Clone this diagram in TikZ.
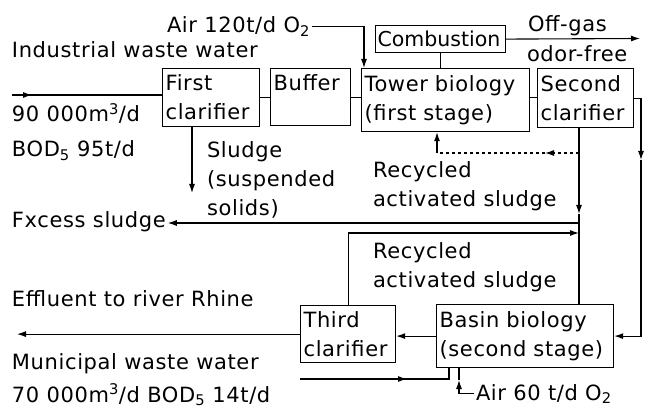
\documentclass[tikz,border=0pt]{standalone}
\usepackage{fontspec}
\setmainfont{DejaVu Sans}[LetterSpace=3.0]
\usepackage{tikz}
\usetikzlibrary{arrows.meta}

\tikzset{
  unit/.style={draw, line width=1.2pt, anchor=north west, align=left, inner sep=3pt},
  txt/.style={anchor=base west, inner sep=0pt, outer sep=2pt},
  pipe/.style={line width=1.1pt},
  flow/.style={pipe, -{Latex[length=9pt,width=6pt]}},
}

\begin{document}
\begin{tikzpicture}[x=1pt, y=-1pt, font=\fontsize{21}{29}\selectfont]
  \useasboundingbox (0,0) rectangle (645,411);

  % process units
  \node[unit, inner xsep=2pt, text width=126pt, minimum height=27pt,
    font=\fontsize{20.5}{29}\selectfont\addfontfeature{LetterSpace=0}] (comb) at (375,25) {Combustion};
  \node[unit, text width=91pt, minimum height=58pt] (first) at (162,68) {First\\clarifier};
  \node[unit, text width=74pt, minimum height=57pt] (buffer) at (270,68) {Buffer\\~};
  \node[unit, text width=162pt, minimum height=63pt] (tower) at (361,68) {Tower biology\\(first stage)};
  \node[unit, text width=90pt, minimum height=59pt] (second) at (537,68) {Second\\clarifier};
  \node[unit, text width=89pt, minimum height=57pt] (third) at (300,305) {Third\\clarifier};
  \node[unit, text width=171pt, minimum height=63pt] (basin) at (436,304) {Basin biology\\(second stage)};

  % texts
  \node[txt] (a120) at (165,33) {Air 120t/d O\textsubscript{2}};
  \node[txt] (indw) at (10,58) {Industrial waste water};
  \node[txt] (q1) at (10,122) {90 000m\textsuperscript{3}/d};
  \node[txt] (b1) at (10,157) {BOD\textsubscript{5} 95t/d};
  \node[txt, align=left, anchor=north west] (sludge) at (205,140) {Sludge\\(suspended\\solids)};
  \node[txt] (excess) at (10,228) {Fxcess sludge};
  \node[txt, align=left, anchor=north west] (rec1) at (371,160) {Recycled\\activated sludge};
  \node[txt, align=left, anchor=north west] (rec2) at (371,241) {Recycled\\activated sludge};
  \node[txt] (offgas) at (526,32) {Off-gas};
  \node[txt] (odor) at (525,62) {odor-free};
  \node[txt] (effl) at (10,307) {Effluent to river Rhine};
  \node[txt] (muni) at (10,370) {Municipal waste water};
  \node[txt] (q2) at (10,402) {70 000m\textsuperscript{3}/d BOD\textsubscript{5} 14t/d};
  \node[txt] (a60) at (474,400) {Air 60 t/d O\textsubscript{2}};

  % free ends and bends
  \coordinate (indin) at (12,95);
  \coordinate (gasout) at (640,38.5);
  \coordinate (rtmid) at (641,160);
  \coordinate (sl) at (192,193);
  \coordinate (rc1) at (579,214);
  \coordinate (rcx) at (579,223);
  \coordinate (rc2) at (579,233);
  \coordinate (rcd) at (579,153);
  \coordinate (rcdm) at (545,153);
  \coordinate (dl) at (437,153);
  \coordinate (effout) at (17,0);
  \coordinate (mun) at (300,379);
  \coordinate (mmid) at (407,379);
  \coordinate (munup) at (449,379);
  \coordinate (airm) at (459,380);

  % first stage
  \draw[pipe] (indin) -- (indin -| first.west);
  \draw[flow] (indin) -- ++(20,0);
  \draw[pipe] (first.east) -- (first.east -| buffer.west);
  \draw[pipe] (buffer.east) -- (buffer.east -| tower.west);
  \draw[pipe] (buffer.east -| tower.east) -- (buffer.east -| second.west);
  \draw[flow] (a120.east) -| ([xshift=3pt]tower.north west);
  \draw[pipe] (comb.south) -- (comb.south |- tower.north);
  \draw[flow] (comb.east) -- (gasout);
  \draw[flow] (sl |- first.south) -- (sl);

  % recycled sludge
  \draw[flow] (rc1 |- second.south) -- (rc1);
  \draw[pipe] (rc1) -- (rc1 |- basin.north);
  \draw[flow, dashed] (rcd) -- (rcdm);
  \draw[pipe, dashed] (rcdm) -- (dl);
  \draw[flow] (dl) -- (dl |- tower.south);
  \draw[flow] (rcx) -- (rcx -| excess.east);
  \draw[flow] (third.north) |- (rc2);

  % second stage
  \draw[flow] (second.east) -| (rtmid);
  \draw[flow] (rtmid) |- (basin.east);
  \draw[flow] (basin.west) -- (basin.west -| third.east);
  \draw[flow] (third.west) -- (effout |- third.west);
  \draw[pipe] (mun) -- (munup) -- (munup |- basin.south);
  \draw[flow] (mun) -- (mmid);
  \draw[flow] (a60.west) -| (airm);
  \draw[pipe] (airm) -- (airm |- basin.south);
\end{tikzpicture}
\end{document}
